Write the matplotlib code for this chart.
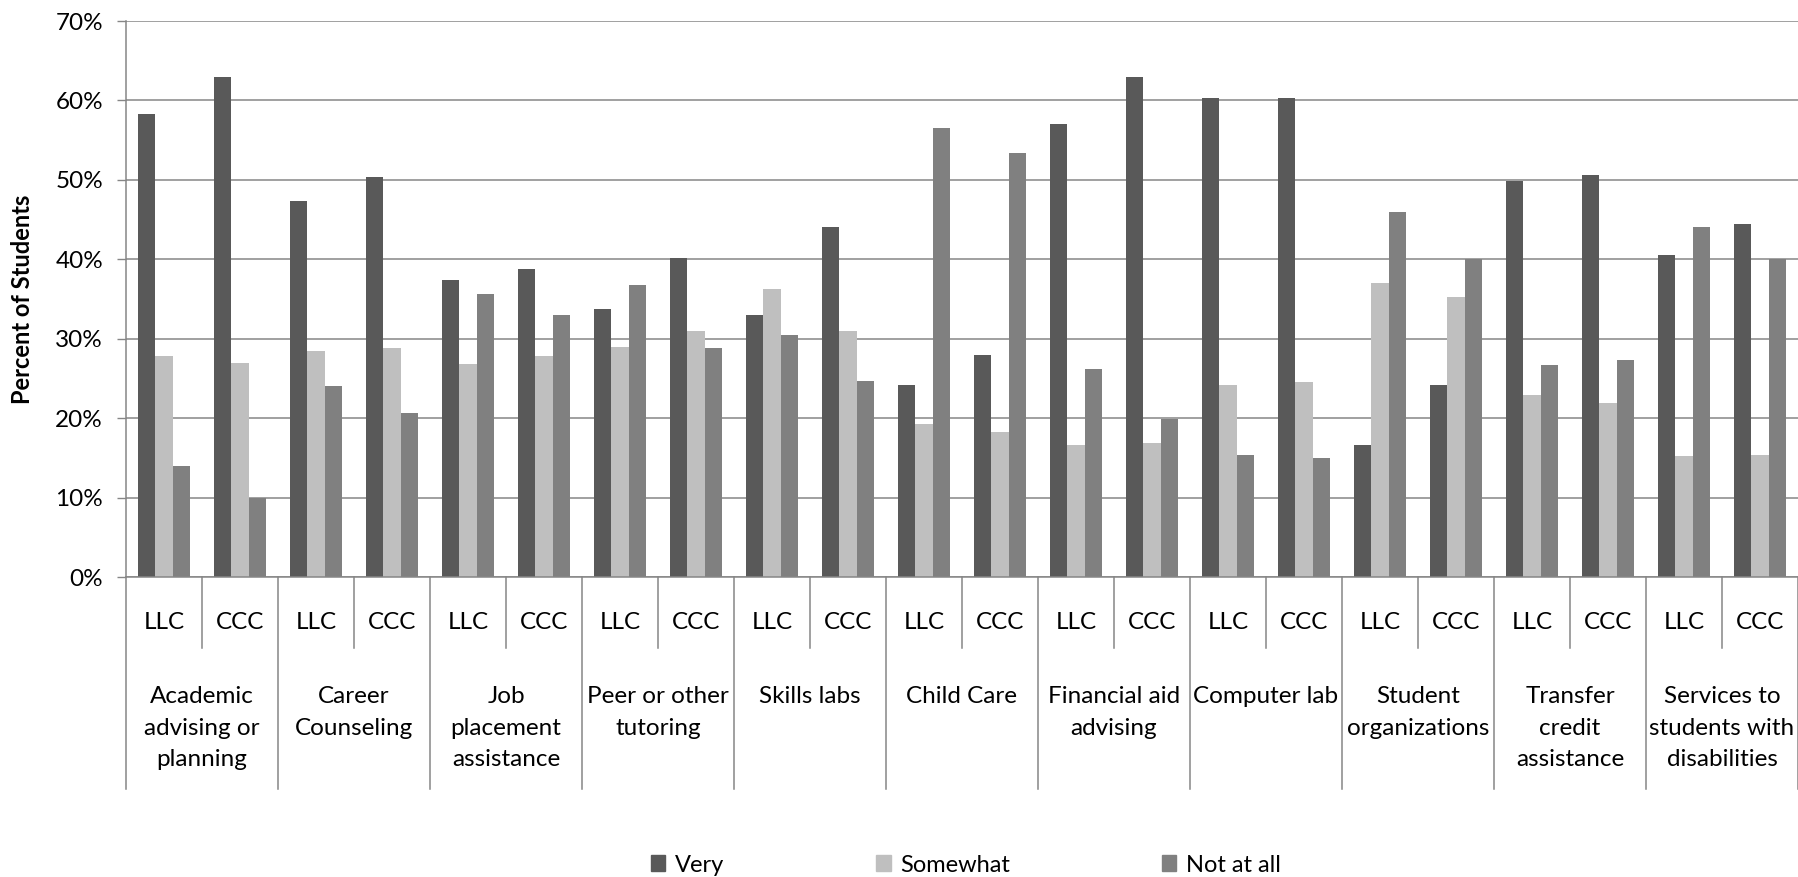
import matplotlib
matplotlib.use("Agg")
import matplotlib.pyplot as plt
from matplotlib.patches import Patch
import numpy as np

# ---------------- data ----------------
services = ["Academic\nadvising or\nplanning", "Career\nCounseling",
            "Job\nplacement\nassistance", "Peer or other\ntutoring",
            "Skills labs", "Child Care", "Financial aid\nadvising",
            "Computer lab", "Student\norganizations",
            "Transfer\ncredit\nassistance", "Services to\nstudents with\ndisabilities"]
schools = ["LLC", "CCC"]
series_names = ["Very", "Somewhat", "Not at all"]

# values in order: (service, school) pairs, LLC then CCC
very = [58.3, 63.0, 47.3, 50.4, 37.4, 38.8, 33.8, 40.1, 33.0, 44.1, 24.2,
        28.0, 57.0, 63.0, 60.3, 60.3, 16.6, 24.2, 49.9, 50.6, 40.6, 44.4]
somewhat = [27.8, 27.0, 28.5, 28.8, 26.8, 27.8, 29.0, 31.0, 36.3, 31.0, 19.3,
            18.2, 16.6, 16.9, 24.2, 24.5, 37.0, 35.3, 22.9, 21.9, 15.2, 15.4]
not_at_all = [14.0, 10.0, 24.0, 20.7, 35.6, 33.0, 36.8, 28.8, 30.5, 24.7, 56.5,
              53.4, 26.2, 19.9, 15.4, 15.0, 45.9, 40.0, 26.7, 27.3, 44.1, 40.0]
y_ticks = [0, 10, 20, 30, 40, 50, 60, 70]

colors = ["#595959", "#BFBFBF", "#808080"]
grid_c = "#868686"

plt.rcParams["font.family"] = ["Lato", "DejaVu Sans"]
FS = 17.5

W, H = 1798, 877
fig = plt.figure(figsize=(W / 100, H / 100), dpi=100)
ax_left_px, ax_top_px, ax_bot_px = 126, 21, 577
ax = fig.add_axes([ax_left_px / W, 1 - ax_bot_px / H,
                   1 - ax_left_px / W, (ax_bot_px - ax_top_px) / H])
ax_h_px = ax_bot_px - ax_top_px

n_cat = len(services) * len(schools)
x = np.arange(n_cat) + 0.5
bw = 0.228
for i, (vals, name) in enumerate(zip([very, somewhat, not_at_all], series_names)):
    ax.bar(x + (i - 1) * bw, vals, width=bw, color=colors[i], label=name,
           zorder=2, linewidth=0)

ax.set_xlim(0, n_cat)
ax.set_ylim(0, 70)
ax.set_yticks(y_ticks)
ax.set_yticklabels([f"{t}%" for t in y_ticks])
ax.yaxis.grid(True, color=grid_c, lw=1.1, zorder=0)
ax.set_axisbelow(True)
ax.tick_params(axis="y", length=6.5, width=1, color=grid_c, labelsize=FS, pad=10)
ax.set_xticks([])
for s in ["top", "right"]:
    ax.spines[s].set_visible(False)
for s in ["left", "bottom"]:
    ax.spines[s].set_color(grid_c)
    ax.spines[s].set_linewidth(1.1)

# multi-level category axis
sub_end = -(648 - ax_bot_px) / ax_h_px
grp_end = -(789 - ax_bot_px) / ax_h_px
for k in range(n_cat + 1):
    ax.axvline(k, ymin=grp_end if k % 2 == 0 else sub_end, ymax=0,
               color=grid_c, lw=1.1, clip_on=False)

trans = ax.get_xaxis_transform()
llc_base = -(629 - ax_bot_px) / ax_h_px
for k in range(n_cat):
    ax.text(x[k], llc_base, schools[k % 2], transform=trans, ha="center",
            va="baseline", fontsize=FS)

line1_base = -(703 - ax_bot_px) / ax_h_px
line_step = 31.7 / ax_h_px
for g, lab in enumerate(services):
    for j, line in enumerate(lab.split("\n")):
        ax.text(2 * g + 1, line1_base - j * line_step, line, transform=trans,
                ha="center", va="baseline", fontsize=FS)

fig.text(23 / W, 1 - 299 / H, "Percent of Students", rotation=90,
         fontweight="bold", fontsize=17, ha="center", va="center")

handles = [Patch(color=c, label=n) for c, n in zip(colors, series_names)]
fig.legend(handles=handles, loc="center", bbox_to_anchor=(966 / W, 1 - 865 / H),
           ncol=3, frameon=False, handlelength=0.6, handleheight=0.65,
           handletextpad=0.4, columnspacing=6.45, fontsize=17, borderpad=0)

fig.savefig("out.png", dpi=100, facecolor="white")
